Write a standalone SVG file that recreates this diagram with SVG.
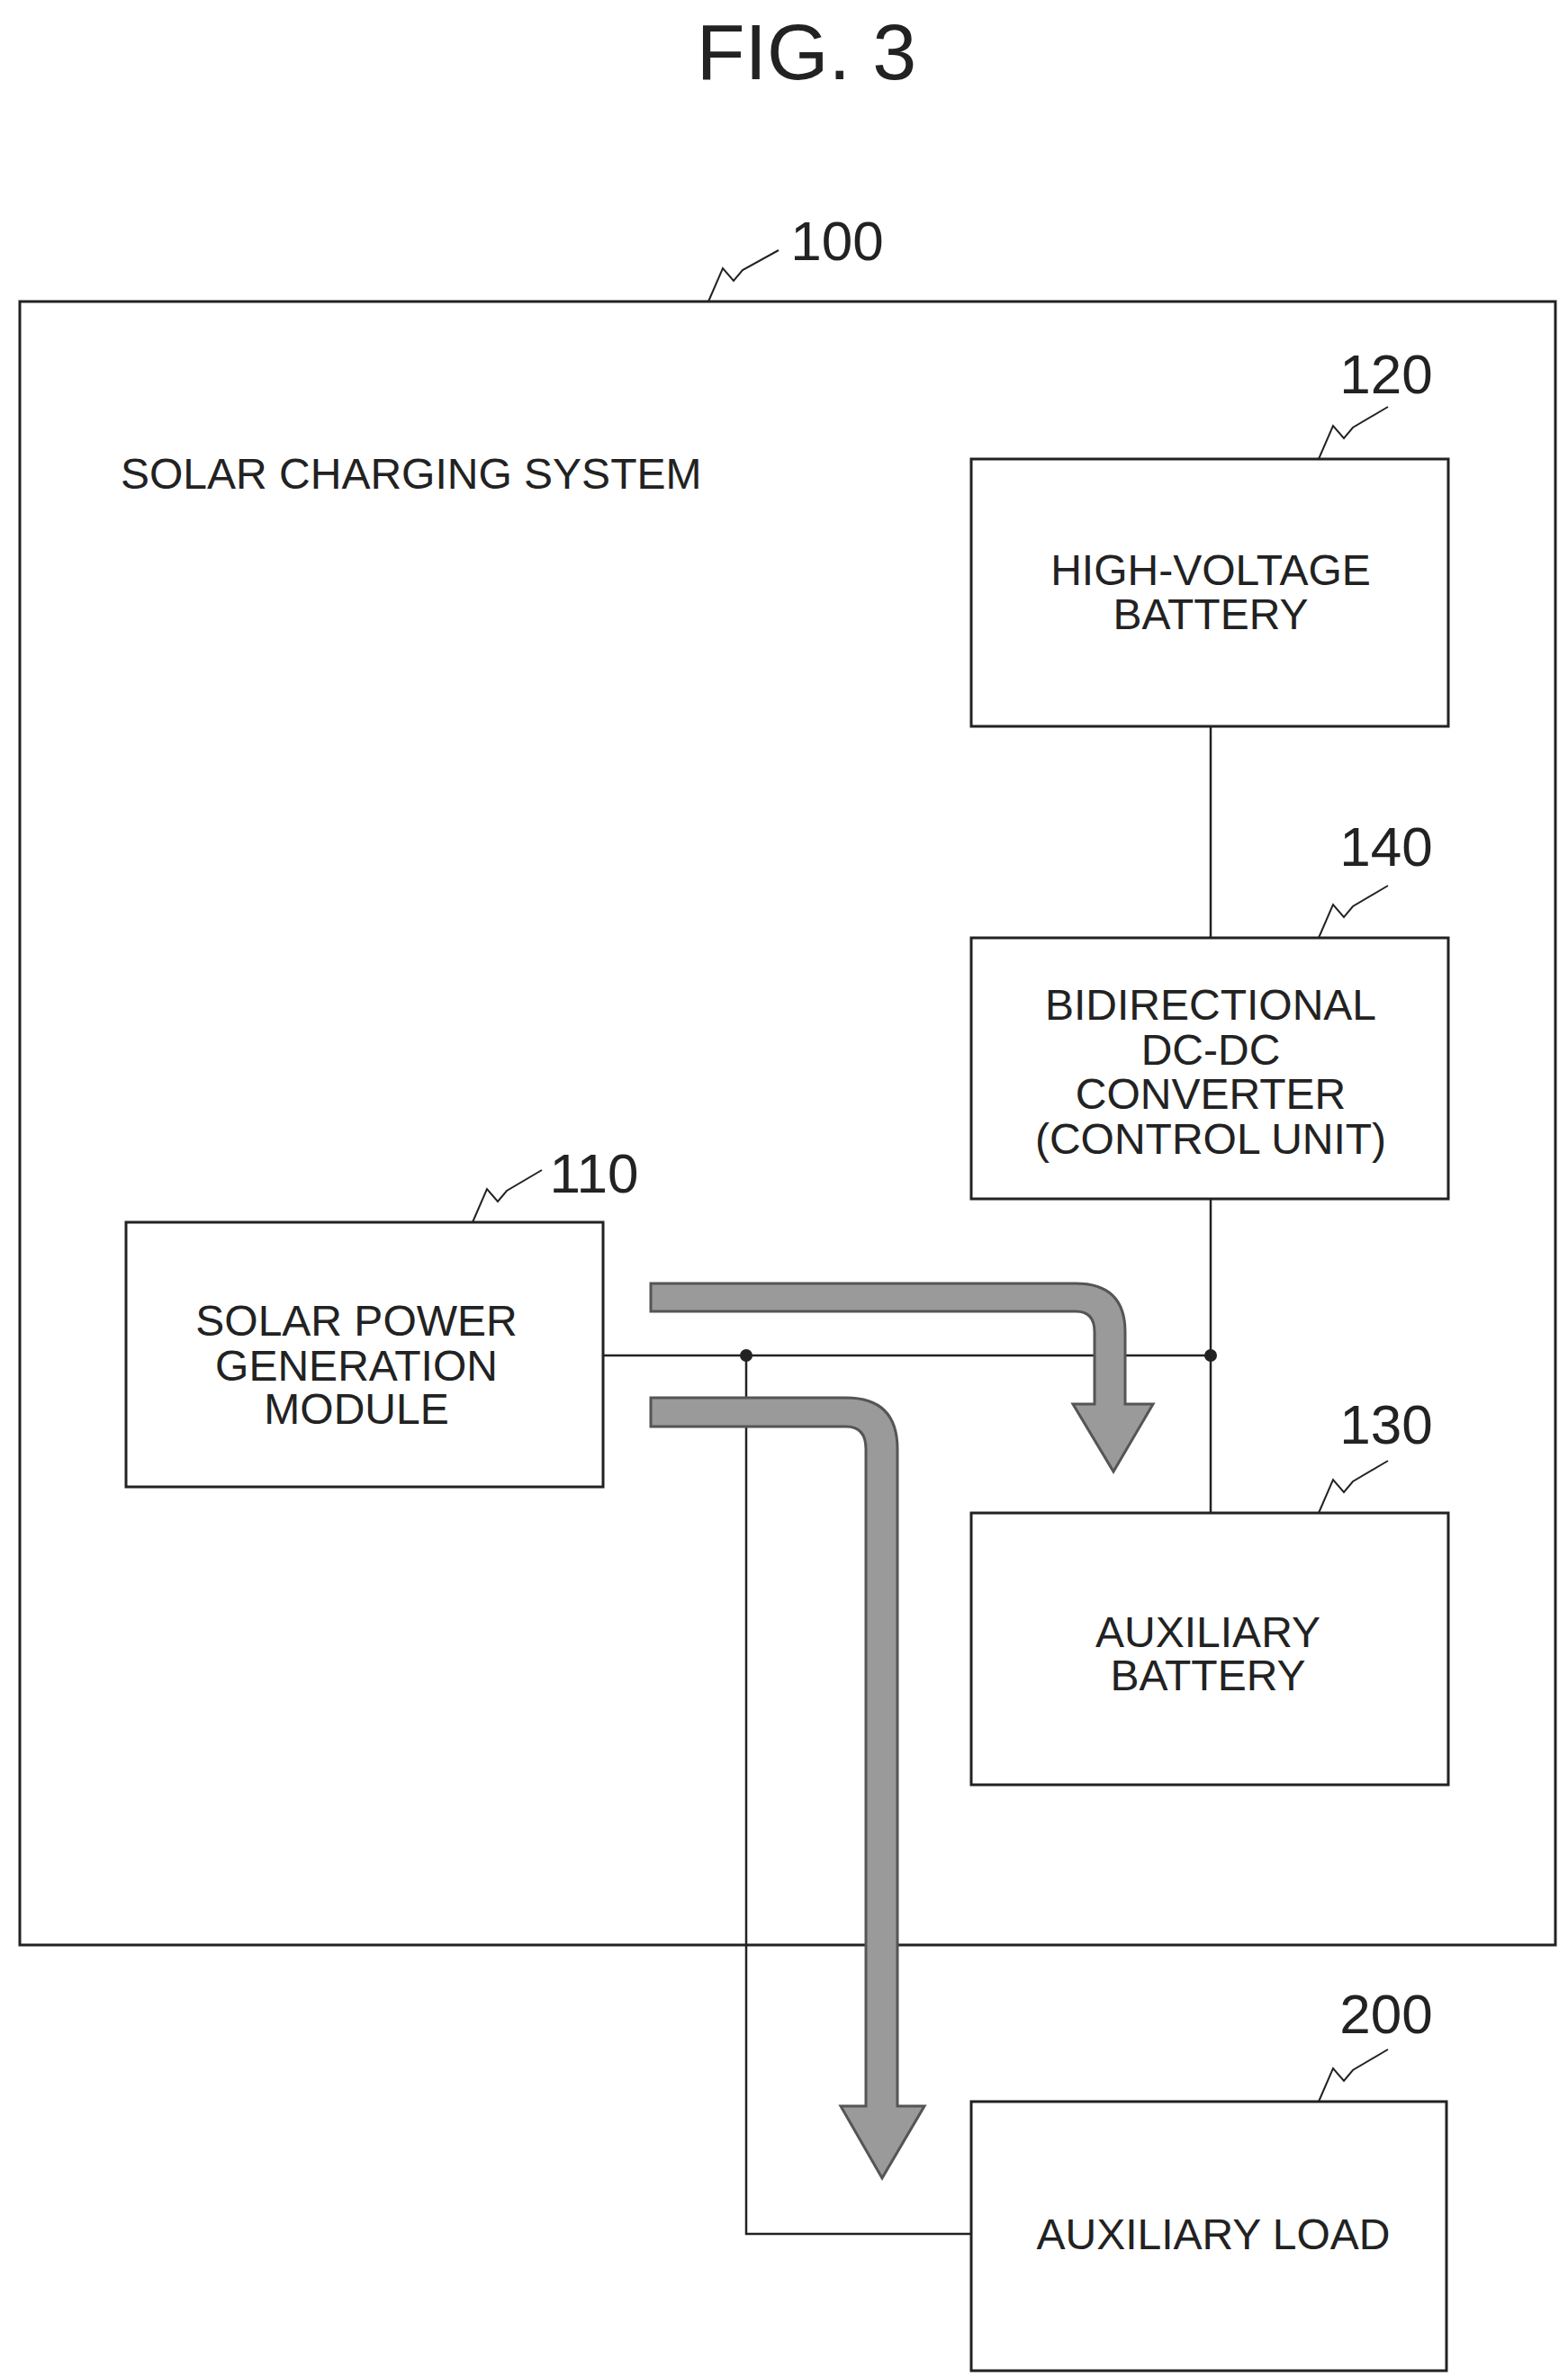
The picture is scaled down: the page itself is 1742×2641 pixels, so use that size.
<svg xmlns="http://www.w3.org/2000/svg" width="1742" height="2641" viewBox="0 0 1742 2641">
<style>
.box{fill:#fff;stroke:#222;stroke-width:3}
.ln{fill:none;stroke:#222;stroke-width:2.5}
.ld{fill:none;stroke:#222;stroke-width:2}
.t{font-family:"Liberation Sans",Arial,sans-serif;font-size:48px;fill:#222;text-anchor:middle}
.n{font-family:"Liberation Sans",Arial,sans-serif;font-size:62px;fill:#222;text-anchor:middle}
.ar{fill:#9a9a9a;stroke:#555;stroke-width:3}
</style>
<rect width="1742" height="2641" fill="#fff"/>
<text x="896" y="88" class="n" style="font-size:88px">FIG. 3</text>
<g id="n100">
<rect class="box" x="22" y="335" width="1706" height="1826"/>
<text x="134" y="543" class="t" style="text-anchor:start">SOLAR CHARGING SYSTEM</text>
<text x="930" y="289" class="n">100</text>
<path class="ld" d="M787,335 L803,298 L815,312 L825,300 L865,278"/>
</g>
<g id="n120">
<rect class="box" x="1079" y="510" width="530" height="297"/>
<text x="1345" y="650" class="t">HIGH-VOLTAGE</text>
<text x="1345" y="699" class="t">BATTERY</text>
<text x="1540" y="437" class="n">120</text>
<path class="ld" d="M1465,510 L1481,473 L1493,487 L1503,475 L1542,452"/>
</g>
<g id="n140">
<rect class="box" x="1079" y="1042" width="530" height="290"/>
<text x="1345" y="1133" class="t">BIDIRECTIONAL</text>
<text x="1345" y="1183" class="t">DC-DC</text>
<text x="1345" y="1232" class="t">CONVERTER</text>
<text x="1345" y="1282" class="t">(CONTROL UNIT)</text>
<text x="1540" y="962" class="n">140</text>
<path class="ld" d="M1465,1042 L1481,1005 L1493,1019 L1503,1007 L1542,984"/>
</g>
<g id="n110">
<rect class="box" x="140" y="1358" width="530" height="294"/>
<text x="396" y="1484" class="t">SOLAR POWER</text>
<text x="396" y="1534" class="t">GENERATION</text>
<text x="396" y="1582" class="t">MODULE</text>
<text x="660" y="1325" class="n">110</text>
<path class="ld" d="M525,1358 L541,1321 L553,1335 L563,1323 L602,1300"/>
</g>
<g id="n130">
<rect class="box" x="1079" y="1681" width="530" height="302"/>
<text x="1342" y="1830" class="t">AUXILIARY</text>
<text x="1342" y="1878" class="t">BATTERY</text>
<text x="1540" y="1604" class="n">130</text>
<path class="ld" d="M1465,1681 L1481,1644 L1493,1658 L1503,1646 L1542,1623"/>
</g>
<g id="n200">
<rect class="box" x="1079" y="2335" width="528" height="299"/>
<text x="1348" y="2499" class="t">AUXILIARY LOAD</text>
<text x="1540" y="2259" class="n">200</text>
<path class="ld" d="M1465,2335 L1481,2298 L1493,2312 L1503,2300 L1542,2277"/>
</g>
<g id="connectors">
<path class="ln" d="M1345,807 V1042 M1345,1332 V1681 M670,1506 H1345 M829,1506 V2482 H1079"/>
<circle cx="829" cy="1506" r="7" fill="#222"/>
<circle cx="1345" cy="1506" r="7" fill="#222"/>
<path class="ar" d="M723,1426 L1195,1426 Q1250,1426 1250,1480 L1250,1560 L1281,1560 L1237,1635 L1192,1560 L1216,1560 L1216,1480 Q1216,1457 1195,1457 L723,1457 Z"/>
<path class="ar" d="M723,1553 L940,1553 Q997,1553 997,1610 L997,2340 L1027,2340 L980,2420 L934,2340 L962,2340 L962,1610 Q962,1585 940,1585 L723,1585 Z"/>
</g>
</svg>
